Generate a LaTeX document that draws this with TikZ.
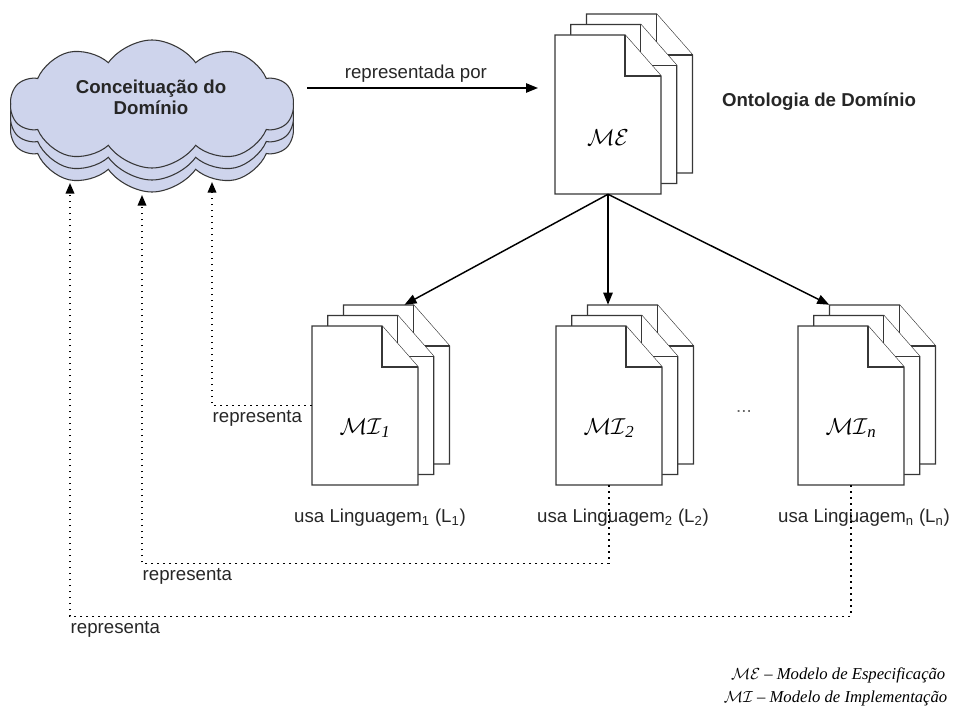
\documentclass[tikz,border=0pt]{standalone}
\usepackage{fontspec}
\setmainfont{Liberation Sans}
\newfontfamily\legendfont{Liberation Serif}
\usetikzlibrary{shapes.symbols,arrows.meta}

\definecolor{cloudfill}{RGB}{206,212,236}
\definecolor{outline}{RGB}{55,55,55}

\tikzset{
  cloudlayer/.style={cloud, cloud puffs=10, cloud puff arc=110, aspect=2.1, draw=outline, line width=0.8pt, fill=cloudfill, minimum width=212pt, minimum height=96pt},
  docpage/.style={draw=outline, line width=0.9pt, fill=white},
  docarea/.style={rectangle, minimum width=79.5pt, minimum height=119.25pt, inner sep=0pt},
  doclbl/.style={font=\fontsize{18}{20}\selectfont},
  flow/.style={line width=1.1pt, -{Triangle[length=9pt,width=7pt]}},
  repline/.style={line width=1.1pt, dash pattern=on 1.2pt off 3.3pt, -{Triangle[length=8pt,width=6.5pt]}},
  lbl/.style={font=\fontsize{14}{16}\selectfont, text=black!85},
  boldlbl/.style={font=\fontsize{14}{16}\selectfont\bfseries, align=center, text=black!85},
  replbl/.style={lbl, anchor=north west, inner sep=3pt, xshift=-3pt},
  legend/.style={font=\fontsize{12.5}{15}\selectfont\legendfont\itshape, anchor=east},
}

% stack of three pages: name, left x and top y of the front page
\newcommand{\docstack}[3]{%
  \foreach \k in {2,1,0}{%
    \draw[docpage] (#2+15.75*\k,#3-10.5*\k) -- ++(70,0) -- ++(36,41) -- ++(0,118) -- ++(-106,0) -- cycle;
    \draw[docpage] (#2+15.75*\k+70,#3-10.5*\k) -- ++(0,41) -- ++(36,0);
  }
  \node[docarea] (#1) at (#2+53,#3+79.5) {};
  \node[docarea] (#1back) at (#2+84.5,#3+58.5) {};
}
% italic index after a model name
\newcommand{\mdlidx}[1]{\textsubscript{\legendfont\itshape #1}}

\begin{document}
\begin{tikzpicture}[x=0.75pt,y=0.75pt,yscale=-1,xscale=1]
\useasboundingbox (0,0) rectangle (954,710);

%Shape: Cloud (three layers)
\node[cloudlayer] (cloud3) at (152,128) {};
\node[cloudlayer] (cloud2) at (152,116) {};
\node[cloudlayer] (cloud1) at (152,104) {};
% Text Node
\node[boldlbl] (concept) at (151,97) {Conceituação do\\Domínio};

%Shape: Documents
\docstack{me}{555}{35}
\docstack{mi1}{312}{326}
\docstack{mi2}{556}{326}
\docstack{min}{798}{326}

% Text Node
\node[doclbl] (melbl) at ([yshift=17pt]me.center) {$\mathcal{ME}$};
\node[doclbl] (mi1lbl) at ([yshift=17pt]mi1.center) {$\mathcal{MI}$\mdlidx{1}};
\node[doclbl] (mi2lbl) at ([yshift=17pt]mi2.center) {$\mathcal{MI}$\mdlidx{2}};
\node[doclbl] (minlbl) at ([yshift=17pt]min.center) {$\mathcal{MI}$\mdlidx{n}};

% Text Node
\node[boldlbl] (onto) at (819,102) {Ontologia de Domínio};
\node[lbl] (use1) at (380,518) {usa Linguagem\textsubscript{1} (L\textsubscript{1})};
\node[lbl] (use2) at (623,518) {usa Linguagem\textsubscript{2} (L\textsubscript{2})};
\node[lbl] (usen) at (864,518) {usa Linguagem\textsubscript{n} (L\textsubscript{n})};
\node[lbl, text=black!60] (dots) at (744,412) {...};

%Straight Lines: representada por
\coordinate (mein) at (538,88);
\draw[flow, shorten <=10pt] (cloud1.east |- mein) -- node[lbl, above, inner sep=4pt] (reppor) {representada por} (mein);

%Straight Lines: ME to MI
\draw[flow] (me.south) -- ([xshift=6pt]mi1back.north);
\draw[flow] (me.south) -- (me.south |- mi2back.north);
\draw[flow] (me.south) -- (minback.north west);

%Dotted Lines: representa
\coordinate (tip1) at (212,182);
\coordinate (tip2) at (142,195);
\coordinate (tip3) at (70,183);
\draw[repline] (mi1.west) -| node[pos=0.5, replbl] (rep1) {representa} (tip1);
\draw[repline] (mi2.south) -- ++(0,78) -| node[pos=0.5, replbl] (rep2) {representa} (tip2);
\draw[repline] (min.south) -- ++(0,131) -| node[pos=0.5, replbl] (rep3) {representa} (tip3);

% Text Node: legend
\node[legend] (leg1) at (950,675) {$\mathcal{ME}$ – Modelo de Especificação};
\node[legend] (leg2) at (952,698) {$\mathcal{MI}$ – Modelo de Implementação};

\end{tikzpicture}
\end{document}
